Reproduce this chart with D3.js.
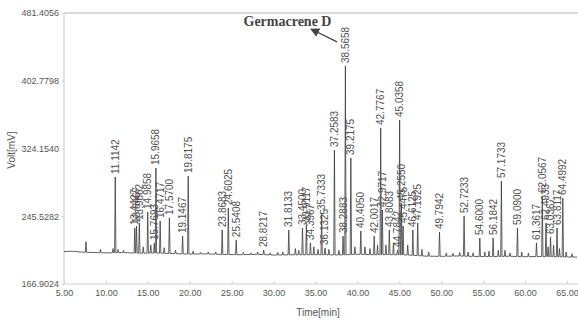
<!DOCTYPE html>
<html><head><meta charset="utf-8">
<script src="https://cdn.jsdelivr.net/npm/d3@7"></script>
<style>
html,body{margin:0;padding:0;background:#fff;}
svg{display:block;}
</style></head>
<body>
<svg id="c" width="578" height="322"></svg>
<script>
// ---- data ----
const timeTicks = [5,10,15,20,25,30,35,40,45,50,55,60,65];
const voltTicks = [166.9024, 245.5282, 324.1540, 402.7798, 481.4056];

const baseTimes = [5,6,7,8,9,10,12,14,16,18,20,22,24,26,28,30,32,34,36,38,40,42,44,46,48,50,52,54,56,58,60,62,64,66.2];
const baseVolts = [204.6,204.9,204.0,203.6,203.4,203.0,203.4,202.6,202.9,202.2,201.6,201.8,201.2,200.9,201.3,200.5,200.8,200.9,200.9,200.6,201.4,200.9,201.0,200.6,199.3,199.0,199.4,198.9,198.7,199.1,198.6,198.9,198.4,198.1];

const peakTimes = [7.62,9.35,10.85,11.1142,11.45,12.1,13.4427,13.6467,13.9862,14.45,14.9858,15.35,15.7693,15.9658,16.4717,16.95,17.5700,18.3,19.1467,19.8175,20.4,21.3,22.2,23.1,23.8683,24.6025,25.5408,26.4,27.3,28.1,28.8217,29.6,30.5,31.1,31.8133,32.6,33.0,33.4500,33.9117,34.3967,34.8,35.3,35.7333,36.1325,36.6,37.2583,37.8,38.2883,38.5658,39.2175,39.7,40.4050,40.9,41.5,42.0017,42.4,42.7767,42.9717,43.4,43.8083,44.3,44.7842,45.0358,45.2550,45.4475,46.0,46.6125,47.1925,47.7,48.5,49.7942,50.6,51.4,52.2,52.7233,53.2,53.8,54.6000,55.2,55.7,56.1842,56.8,57.1733,57.6,58.2,59.0900,59.6,60.4,61.3617,62.0567,62.4933,62.75,63.0367,63.4,63.8117,64.1,64.4992,64.9,65.6];
const peakVolts = [216,207,208,291.1,207,206,231.9,234.2,237.7,210,250.5,212,214.4,301.5,240.0,209,243.5,206,222.5,292.3,205,203.5,204,204,229.6,255.1,217.8,203.5,203,204,206.3,203,203.5,204,229.6,208,206,231.9,235.4,214.5,210,207,249.3,208.7,207,322.4,206,222.5,419.9,313.1,210,228.4,210,208,222.5,212,348.0,252.8,212,229.6,214,206.3,357.2,260.9,234.2,212,229.6,237.7,207,204,227.2,203,202.5,203.5,245.8,204,203,220.3,204,205,220.3,206,286.4,206,203,231.9,204,202.5,214.5,269.0,237.7,210,221.4,212,231.9,208,266.7,204,202];
const peakLabels = ["","","","11.1142","","","13.4427","13.6467","13.9862","","14.9858","","15.7693","15.9658","16.4717","","17.5700","","19.1467","19.8175","","","","","23.8683","24.6025","25.5408","","","","28.8217","","","","31.8133","","","33.4500","33.9117","34.3967","","","35.7333","36.1325","","37.2583","","38.2883","38.5658","39.2175","","40.4050","","","42.0017","","42.7767","42.9717","","43.8083","","44.7842","45.0358","45.2550","45.4475","","46.6125","47.1925","","","49.7942","","","","52.7233","","","54.6000","","","56.1842","","57.1733","","","59.0900","","","61.3617","62.0567","62.4933","","63.0367","","63.8117","","64.4992","",""];

const annotText = "Germacrene D";
const annotTextPos = [31.66, 466.3];
const annotArrowFrom = [37.57, 447.8];
const annotArrowTo = [34.46, 462.8];

// ---- chart ----
const svg = d3.select("#c");
const x = d3.scaleLinear().domain([5,65]).range([64,567]);
const y = d3.scaleLinear().domain([166.9024,481.4056]).range([284,13]);
const baseAt = d3.scaleLinear().domain(baseTimes).range(baseVolts);
const halfW = 0.08;

// trace points
const pts = [];
baseTimes.forEach((t,i)=>{
  if (!peakTimes.some(p=>Math.abs(p-t)<=halfW)) pts.push([t, baseVolts[i]]);
});
peakTimes.forEach((t,i)=>{
  pts.push([t-halfW, baseAt(t-halfW)]);
  pts.push([t, peakVolts[i]]);
  pts.push([t+halfW, baseAt(t+halfW)]);
});
pts.sort((a,b)=>a[0]-b[0]);

const axisColor = "#cfcfcf";
const textColor = "#555";
const sans = "Arial, 'Liberation Sans', sans-serif";

// frame
svg.append("line").attr("x1",64).attr("x2",578).attr("y1",y(481.4056)).attr("y2",y(481.4056))
  .attr("stroke",axisColor).attr("stroke-width",1.6);
svg.append("line").attr("x1",64).attr("x2",64).attr("y1",y(481.4056)).attr("y2",y(166.9024))
  .attr("stroke",axisColor).attr("stroke-width",1.2);
svg.append("line").attr("x1",64).attr("x2",578).attr("y1",y(166.9024)).attr("y2",y(166.9024))
  .attr("stroke",axisColor).attr("stroke-width",1.2);

// axes
const xa = svg.append("g").attr("transform",`translate(0,${y(166.9024)})`)
  .call(d3.axisBottom(x).tickValues(timeTicks).tickFormat(d3.format(".2f")).tickSizeInner(-3).tickSizeOuter(0).tickPadding(6));
xa.select(".domain").remove();
xa.selectAll("line").attr("stroke",axisColor);
xa.selectAll("text").attr("fill",textColor).style("font-family",sans).style("font-size","9px");

const ya = svg.append("g").attr("transform","translate(64,0)")
  .call(d3.axisLeft(y).tickValues(voltTicks).tickFormat(d3.format(".4f")).tickSizeInner(2).tickSizeOuter(0).tickPadding(3));
ya.select(".domain").remove();
ya.selectAll("line").attr("stroke",axisColor);
ya.selectAll("text").attr("fill",textColor).style("font-family",sans).style("font-size","9px");

// axis titles
svg.append("text").attr("transform","translate(15,150) rotate(-90)").attr("text-anchor","middle")
  .attr("fill",textColor).style("font-family",sans).style("font-size","10px").text("Volt[mV]");
svg.append("text").attr("x",318).attr("y",316).attr("text-anchor","middle")
  .attr("fill",textColor).style("font-family",sans).style("font-size","10px").text("Time[min]");

// trace
svg.append("path").datum(pts)
  .attr("d", d3.line().x(d=>x(d[0])).y(d=>y(d[1])))
  .attr("fill","none").attr("stroke","#3a3a3a").attr("stroke-width",0.8).attr("stroke-linejoin","round");

// peak labels
peakTimes.forEach((t,i)=>{
  if (!peakLabels[i]) return;
  svg.append("text")
    .attr("transform",`translate(${x(t)},${y(peakVolts[i])-3}) rotate(-90)`)
    .attr("dy","0.35em").attr("text-anchor","start")
    .attr("fill","#505050").style("font-family",sans).style("font-size","10px")
    .text(peakLabels[i]);
});

// annotation
svg.append("defs").append("marker").attr("id","ah").attr("viewBox","0 0 10 10").attr("refX",9).attr("refY",5)
  .attr("markerWidth",7).attr("markerHeight",7).attr("orient","auto")
  .append("path").attr("d","M0,0 L10,5 L0,10 z").attr("fill","#444");
svg.append("line").attr("x1",x(annotArrowFrom[0])).attr("y1",y(annotArrowFrom[1]))
  .attr("x2",x(annotArrowTo[0])).attr("y2",y(annotArrowTo[1]))
  .attr("stroke","#444").attr("stroke-width",1.3).attr("marker-end","url(#ah)");
svg.append("text").attr("x",x(annotTextPos[0])).attr("y",y(annotTextPos[1])).attr("text-anchor","middle")
  .attr("fill","#444").style("font-family","'Liberation Serif','Times New Roman',serif").style("font-weight","bold").style("font-size","14px")
  .text(annotText);
</script>
</body></html>
